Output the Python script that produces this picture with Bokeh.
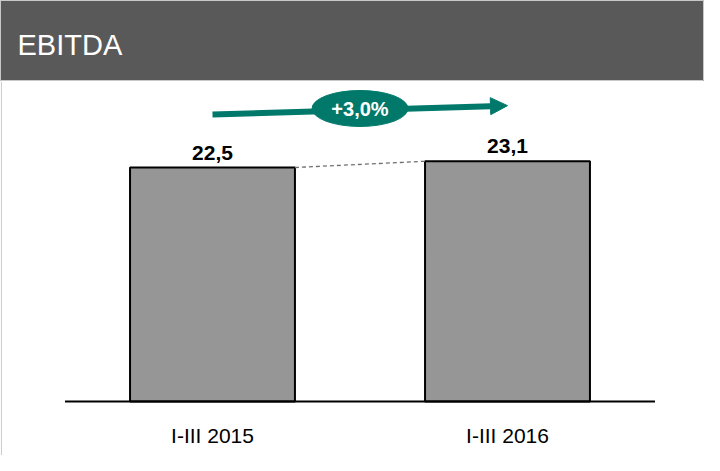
from bokeh.plotting import figure
from bokeh.layouts import column
from bokeh.models import Range1d, Label, Arrow, NormalHead, Span
from bokeh.core.properties import value
from bokeh.embed import file_html
from bokeh.resources import INLINE

# ---- data ----
categories = ["I-III 2015", "I-III 2016"]
values = [22.5, 23.1]
value_labels = ["22,5", "23,1"]
growth_label = "+3,0%"
title_text = "EBITDA"

FONT = value("Liberation Sans")
TEAL = "#00796B"
BAR_W = 0.559
xs = list(range(len(categories)))

# ---- header ----
h = figure(width=704, height=81, x_range=Range1d(0, 704), y_range=Range1d(0, 81),
           output_backend="svg", toolbar_location=None, min_border=0,
           background_fill_color="#595959", border_fill_color="#595959")
h.axis.visible = False
h.grid.visible = False
h.outline_line_color = "#c8c8c8"
h.add_layout(Label(x=17, y=37, text=title_text, text_color="white",
                   text_font="Liberation Sans", text_font_size="29px",
                   text_baseline="alphabetic"))

# ---- chart ----
p = figure(width=704, height=374, x_range=Range1d(-0.7186, 1.6678),
           y_range=Range1d(-5.192, 30.77), output_backend="svg",
           toolbar_location=None, min_border=0)
p.axis.visible = False
p.grid.visible = False
p.outline_line_color = None
p.add_layout(Span(location=-0.7186 + 0.003, dimension="height",
                  line_color="#c8c8c8", line_width=1))

p.vbar(x=xs, top=values, width=BAR_W, bottom=0, fill_color="#969696",
       line_color="black", line_width=2)

# baseline
p.segment(x0=[xs[0] - 0.5], y0=[0], x1=[xs[-1] + 0.5], y1=[0],
          line_color="black", line_width=2)

# connector between bar tops
p.segment(x0=[xs[0] + BAR_W / 2], y0=[values[0]], x1=[xs[1] - BAR_W / 2], y1=[values[1]],
          line_color="#6f6f6f", line_width=1.3, line_dash="4 3")

# value labels
p.text(x=xs, y=values, text=value_labels, y_offset=-15, text_align="center",
       text_baseline="alphabetic", text_font=FONT, text_font_size="21px",
       text_font_style="bold", text_color="black")

# category labels
p.text(x=xs, y=[0] * len(xs), text=categories, y_offset=34, text_align="center",
       text_baseline="alphabetic", text_font=FONT, text_font_size="21px",
       text_color="black")

# growth arrow
ay0 = values[0] + 5.1
ay1 = values[1] + 5.35
p.add_layout(Arrow(x_start=xs[0], y_start=ay0, x_end=xs[1], y_end=ay1,
                   line_color=TEAL, line_width=6, level="underlay",
                   end=NormalHead(size=17, fill_color=TEAL, line_color=TEAL, line_width=1)))
mx = (xs[0] + xs[1]) / 2
my = (ay0 + ay1) / 2 + 0.15
p.ellipse(x=[mx], y=[my], width=0.325, height=3.46, fill_color=TEAL, line_color=TEAL)
p.text(x=[mx], y=[my], text=[growth_label], text_align="center", text_baseline="middle",
       y_offset=1, text_font=FONT, text_font_size="20px", text_font_style="bold",
       text_color="white")

layout = column(h, p, spacing=0)
open("out.html", "w").write(file_html(layout, INLINE))
